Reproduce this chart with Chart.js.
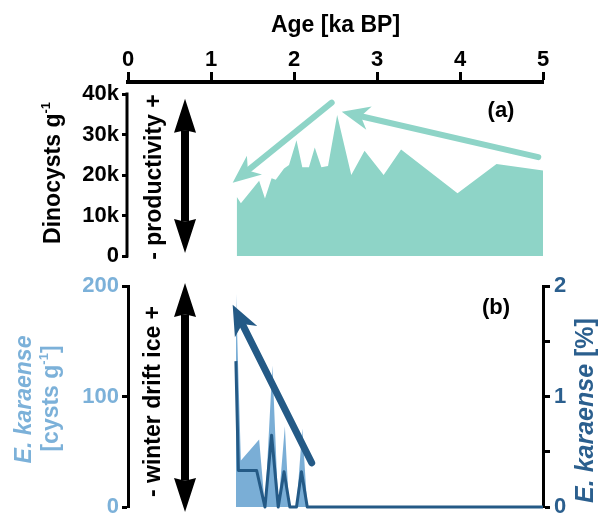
<!DOCTYPE html>
<html>
<head>
<meta charset="utf-8">
<script src="https://cdn.jsdelivr.net/npm/chart.js"></script>
<style>
  html, body { margin: 0; background: #fff; overflow: hidden; }
  #wrapA { position: absolute; left: 0; top: 0; width: 600px; height: 270px; }
  #wrapB { position: absolute; left: 0; top: 270px; width: 600px; height: 244px; }
</style>
</head>
<body>
<div id="wrapA"><canvas id="chartA"></canvas></div>
<div id="wrapB"><canvas id="chartB"></canvas></div>
<script>
// --- data ---
const ageTicks = [0, 1, 2, 3, 4, 5];

// (a) dinocyst concentration
const dinoAge  = [1.31, 1.36, 1.58, 1.65, 1.73, 1.78, 1.88, 1.94, 2.03, 2.10, 2.18, 2.25, 2.33, 2.41, 2.52, 2.69, 2.85, 3.08, 3.29, 3.97, 4.44, 5.00];
const dinoConc = [14600, 13000, 18600, 14200, 19200, 18800, 21600, 22500, 28600, 21900, 21900, 26800, 21900, 22200, 34800, 20000, 26000, 20000, 26300, 15500, 22700, 21100];
const dinoTicks = [0, 10000, 20000, 30000, 40000];

// (b) E. karaense, cysts per gram
const karAgeC = [1.30, 1.36, 1.58, 1.65, 1.74, 1.81, 1.89, 1.94, 2.03, 2.10, 2.16, 5.00];
const karConc = [196, 42, 61, 0, 128, 0, 73, 0, 0, 71, 0, 0];
const karConcTicks = [0, 100, 200];

// (b) E. karaense, percent
const karAgeP = [1.30, 1.33, 1.55, 1.65, 1.73, 1.81, 1.88, 1.95, 2.03, 2.09, 2.16, 5.00];
const karPct  = [1.32, 0.33, 0.33, 0, 0.65, 0, 0.32, 0, 0, 0.32, 0, 0];
const karPctTicks = [0, 0.5, 1, 1.5, 2];

// --- styles ---
const FAM = '"Liberation Sans", Arial, sans-serif';
const TEAL = '#8ed4c7';
const LIGHT = '#7aaed6';
const DARK = '#245a86';
const LIGHT_TXT = '#7cb1d9';
const DARK_TXT = '#2b5f8e';
const tickFont = { family: FAM, size: 22, weight: 'bold' };

const pts = (xs, ys) => xs.map((x, i) => ({ x: x, y: ys[i] }));

// y max so that 40k sits a little below the top age axis
const DINO_MAX = 40000 * 174 / 162;

function richText(ctx, x, y, parts, angle) {
  ctx.save();
  ctx.translate(x, y);
  ctx.rotate(angle || 0);
  ctx.textBaseline = 'alphabetic';
  let w = 0;
  parts.forEach(p => { ctx.font = p.font; p.w = ctx.measureText(p.text).width; w += p.w; });
  let cx = -w / 2;
  parts.forEach(p => {
    ctx.font = p.font;
    ctx.fillStyle = p.color;
    ctx.fillText(p.text, cx, -(p.rise || 0));
    cx += p.w;
  });
  ctx.restore();
}

function arrowPath(x1, y1, x2, y2, hl, hw, notch) {
  const len = Math.hypot(x2 - x1, y2 - y1);
  const ux = (x2 - x1) / len, uy = (y2 - y1) / len;
  const px = -uy, py = ux;
  const bx = x2 - ux * hl, by = y2 - uy * hl;
  const nx = x2 - ux * hl * notch, ny = y2 - uy * hl * notch;
  return { nx, ny, head: [[x2, y2], [bx + px * hw / 2, by + py * hw / 2], [nx, ny], [bx - px * hw / 2, by - py * hw / 2]] };
}

function arrow(ctx, x1, y1, x2, y2, o) {
  const a = arrowPath(x1, y1, x2, y2, o.hl, o.hw, o.notch);
  const layers = o.outline ? [['#fff', o.outline], [o.color, 0]] : [[o.color, 0]];
  layers.forEach(([col, extra]) => {
    ctx.save();
    ctx.strokeStyle = col;
    ctx.fillStyle = col;
    ctx.lineCap = o.cap || 'round';
    ctx.lineJoin = 'round';
    ctx.lineWidth = o.w + extra * 2;
    ctx.beginPath();
    ctx.moveTo(x1, y1);
    ctx.lineTo(a.nx, a.ny);
    ctx.stroke();
    ctx.beginPath();
    a.head.forEach((p, i) => i ? ctx.lineTo(p[0], p[1]) : ctx.moveTo(p[0], p[1]));
    ctx.closePath();
    ctx.fill();
    if (extra) { ctx.lineWidth = extra * 2; ctx.stroke(); }
    ctx.restore();
  });
}

function doubleArrow(ctx, x, yTop, yBot) {
  const mid = (yTop + yBot) / 2;
  const o = { w: 8, hl: 34, hw: 22, notch: 0.92, color: '#000', cap: 'butt' };
  arrow(ctx, x, mid + 1, x, yTop, o);
  arrow(ctx, x, mid - 1, x, yBot, o);
}

// annotations for panel (a)
const panelA = {
  id: 'panelA',
  afterDatasetsDraw(chart) {
    const { ctx, chartArea: ca, scales: { x, y } } = chart;
    // left axis line only from 0 to 40k
    ctx.save();
    ctx.strokeStyle = '#000';
    ctx.lineWidth = 3;
    ctx.beginPath();
    ctx.moveTo(ca.left - 1, y.getPixelForValue(0) + 1.5);
    ctx.lineTo(ca.left - 1, y.getPixelForValue(40000) - 1.5);
    ctx.stroke();
    ctx.restore();

    const teal = { w: 6, hl: 28, hw: 24, notch: 0.7, color: TEAL, outline: 3 };
    arrow(ctx, x.getPixelForValue(2.454), y.getPixelForValue(37850), x.getPixelForValue(1.261), y.getPixelForValue(18100), teal);
    arrow(ctx, x.getPixelForValue(4.943), y.getPixelForValue(24400), x.getPixelForValue(2.575), y.getPixelForValue(35600), teal);

    doubleArrow(ctx, x.getPixelForValue(0.687), y.getPixelForValue(38800), y.getPixelForValue(740));

    const bold = `bold 23px ${FAM}`;
    richText(ctx, x.getPixelForValue(0.398), y.getPixelForValue(19500),
      [{ text: '- productivity +', font: bold, color: '#000' }], -Math.PI / 2);
    richText(ctx, ca.left - 68, y.getPixelForValue(20500),
      [{ text: 'Dinocysts g', font: bold, color: '#000' },
       { text: '-1', font: `bold 13px ${FAM}`, color: '#000', rise: 10 }], -Math.PI / 2);

    ctx.save();
    ctx.font = `bold 22px ${FAM}`;
    ctx.fillStyle = '#000';
    ctx.textAlign = 'center';
    ctx.textBaseline = 'middle';
    ctx.fillText('(a)', x.getPixelForValue(4.494), y.getPixelForValue(35800));
    ctx.restore();
  }
};

// annotations for panel (b)
const panelB = {
  id: 'panelB',
  afterDatasetsDraw(chart) {
    const { ctx, chartArea: ca, scales: { x, yL, yR } } = chart;
    arrow(ctx, x.getPixelForValue(2.213), yR.getPixelForValue(0.40), x.getPixelForValue(1.261), yR.getPixelForValue(1.83),
      { w: 7, hl: 30, hw: 25, notch: 0.72, color: DARK });

    doubleArrow(ctx, x.getPixelForValue(0.687), yL.getPixelForValue(202.7), yL.getPixelForValue(-4.5));

    const bold = `bold 23px ${FAM}`;
    const ital = `italic bold 23px ${FAM}`;
    const midY = (ca.top + ca.bottom) / 2;
    richText(ctx, x.getPixelForValue(0.386), midY + 5,
      [{ text: '- winter drift ice +', font: bold, color: '#000' }], -Math.PI / 2);
    richText(ctx, ca.left - 97, midY + 3,
      [{ text: 'E. karaense', font: ital, color: LIGHT_TXT }], -Math.PI / 2);
    richText(ctx, ca.left - 70, midY + 2,
      [{ text: '[cysts g', font: bold, color: LIGHT_TXT },
       { text: '-1', font: `bold 13px ${FAM}`, color: LIGHT_TXT, rise: 10 },
       { text: ']', font: bold, color: LIGHT_TXT }], -Math.PI / 2);
    richText(ctx, ca.right + 50, midY + 14,
      [{ text: 'E. karaense', font: `italic bold 25px ${FAM}`, color: DARK_TXT },
       { text: ' [%]', font: `bold 25px ${FAM}`, color: DARK_TXT }], -Math.PI / 2);

    ctx.save();
    ctx.font = `bold 22px ${FAM}`;
    ctx.fillStyle = '#000';
    ctx.textAlign = 'center';
    ctx.textBaseline = 'middle';
    ctx.fillText('(b)', x.getPixelForValue(4.434), yL.getPixelForValue(180));
    ctx.restore();
  }
};

const fixedTicks = list => scale => { scale.ticks = list.map(v => ({ value: v })); };
// keep the layout exact: no extra room asked for by end labels
const noPad = s => { s.paddingTop = 0; s.paddingBottom = 0; s.paddingLeft = 0; s.paddingRight = 0; };

new Chart(document.getElementById('chartA'), {
  type: 'line',
  data: {
    datasets: [{
      data: pts(dinoAge, dinoConc),
      fill: 'origin',
      backgroundColor: TEAL,
      borderWidth: 0,
      pointRadius: 0,
      tension: 0
    }]
  },
  options: {
    animation: false,
    responsive: true,
    maintainAspectRatio: false,
    layout: { padding: { left: 0, right: 57, top: 0, bottom: 14 } },
    plugins: { legend: { display: false }, tooltip: { enabled: false } },
    scales: {
      x: {
        type: 'linear', position: 'top', min: 0, max: 5,
        afterBuildTicks: fixedTicks(ageTicks),
        ticks: { font: tickFont, color: '#000', padding: -1, maxRotation: 0 },
        grid: { drawOnChartArea: false, drawTicks: true, tickLength: 10, tickWidth: 3, color: '#000' },
        border: { display: true, width: 4, color: '#000' },
        title: { display: true, text: 'Age [ka BP]', color: '#000', font: { family: FAM, size: 23, weight: 'bold' }, padding: { top: 12, bottom: 0 } },
        afterFit: s => { s.height = 82; noPad(s); }
      },
      y: {
        min: 0, max: DINO_MAX,
        afterBuildTicks: fixedTicks(dinoTicks),
        ticks: { font: tickFont, color: '#000', padding: 3, callback: v => v === 0 ? '0' : (v / 1000) + 'k' },
        grid: { drawOnChartArea: false, drawTicks: true, tickLength: 6, tickWidth: 3, color: '#000' },
        border: { display: false },
        afterFit: s => { s.width = 128; noPad(s); }
      }
    }
  },
  plugins: [panelA]
});

new Chart(document.getElementById('chartB'), {
  type: 'line',
  data: {
    datasets: [{
      data: pts(karAgeP, karPct),
      yAxisID: 'yR',
      order: 1,
      fill: false,
      borderColor: DARK,
      borderWidth: 3,
      borderJoinStyle: 'round',
      pointRadius: 0,
      tension: 0,
      clip: false
    }, {
      data: pts(karAgeC, karConc),
      yAxisID: 'yL',
      order: 2,
      fill: 'origin',
      backgroundColor: LIGHT,
      borderWidth: 0,
      pointRadius: 0,
      tension: 0
    }]
  },
  options: {
    animation: false,
    responsive: true,
    maintainAspectRatio: false,
    layout: { padding: { left: 0, right: 0, top: 16, bottom: 7 } },
    plugins: { legend: { display: false }, tooltip: { enabled: false } },
    scales: {
      x: { type: 'linear', min: 0, max: 5, display: false },
      yL: {
        position: 'left', min: 0, max: 200,
        afterBuildTicks: fixedTicks(karConcTicks),
        ticks: { font: tickFont, color: LIGHT_TXT, padding: 3 },
        grid: { drawOnChartArea: false, drawTicks: true, tickLength: 6, tickWidth: 3, color: '#000' },
        border: { display: true, width: 3, color: '#000' },
        afterFit: s => { s.width = 128; noPad(s); }
      },
      yR: {
        position: 'right', min: 0, max: 2,
        afterBuildTicks: fixedTicks(karPctTicks),
        ticks: { font: tickFont, color: DARK_TXT, padding: 4, callback: v => Number.isInteger(v) ? String(v) : '' },
        grid: { drawOnChartArea: false, drawTicks: true, tickLength: 7, tickWidth: 3, color: '#000' },
        border: { display: true, width: 3, color: '#000' },
        afterFit: s => { s.width = 57; noPad(s); }
      }
    }
  },
  plugins: [panelB]
});
</script>
</body>
</html>
